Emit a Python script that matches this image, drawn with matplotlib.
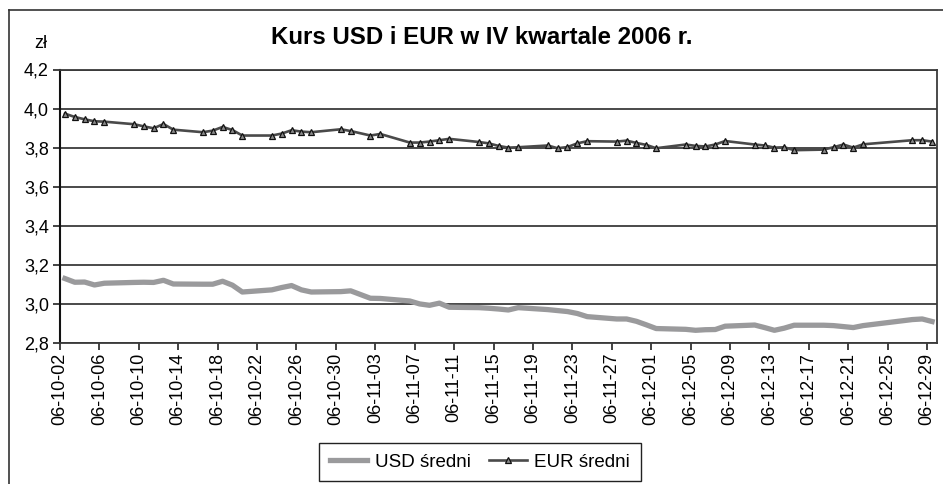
import matplotlib
matplotlib.use("Agg")
import matplotlib.pyplot as plt
import matplotlib.dates as mdates
from matplotlib.lines import Line2D
import pandas as pd

plt.rcParams['font.family'] = ['Liberation Sans', 'DejaVu Sans']

# ---- data ----
start_date = "2006-10-02"
end_date = "2006-12-29"
holidays = ["2006-11-01", "2006-12-25", "2006-12-26"]
dates = [d for d in pd.bdate_range(start_date, end_date) if d.strftime("%Y-%m-%d") not in holidays]

usd = [3.130, 3.111, 3.112, 3.097, 3.106, 3.110, 3.111, 3.110, 3.121, 3.102,
       3.101, 3.101, 3.116, 3.096, 3.061, 3.072, 3.084, 3.094, 3.072, 3.061,
       3.063, 3.067,
       3.029, 3.028, 3.015, 3.000, 2.993, 3.004, 2.983, 2.981, 2.978, 2.974,
       2.969, 2.981, 2.971, 2.966, 2.961, 2.951, 2.935, 2.923, 2.923, 2.911,
       2.893,
       2.874, 2.870, 2.865, 2.868, 2.869, 2.886, 2.892, 2.879, 2.865, 2.876,
       2.891, 2.891, 2.889, 2.884, 2.879, 2.889, 2.920, 2.923, 2.910]

eur = [3.974, 3.957, 3.945, 3.935, 3.933, 3.920, 3.909, 3.899, 3.921, 3.892,
       3.879, 3.887, 3.906, 3.890, 3.862, 3.862, 3.872, 3.889, 3.882, 3.879,
       3.894, 3.885,
       3.862, 3.870, 3.826, 3.826, 3.831, 3.838, 3.845, 3.829, 3.822, 3.809,
       3.800, 3.802, 3.811, 3.797, 3.803, 3.822, 3.833, 3.831, 3.836, 3.824,
       3.814,
       3.797, 3.816, 3.809, 3.806, 3.816, 3.834, 3.816, 3.811, 3.800, 3.802,
       3.787, 3.790, 3.802, 3.816, 3.800, 3.817, 3.838, 3.838, 3.831]

title = "Kurs USD i EUR w IV kwartale 2006 r."
y_unit = "zł"
y_ticks = [2.8, 3.0, 3.2, 3.4, 3.6, 3.8, 4.0, 4.2]
tick_step_days = 4
labels = ["USD średni", "EUR średni"]

# ---- figure ----
fig = plt.figure(figsize=(9.43, 4.84), dpi=100)
ax = fig.add_axes([60/943, 1-343/484, (937-60)/943, (343-69.5)/484])

# points centred in their day (date axis, between tick marks)
x = [mdates.date2num(d) + 0.5 for d in dates]

ax.plot(x, usd, color="#9a9a9c", lw=3.8, solid_joinstyle="round", label=labels[0], zorder=3)
ax.plot(x, eur, color="#4a4a4a", lw=1.9, marker="^", ms=4.5, mfc="#8a8a8a",
        mec="#111111", mew=0.9, label=labels[1], zorder=4)

x0 = mdates.date2num(pd.Timestamp(start_date))
x1 = mdates.date2num(pd.Timestamp(end_date)) + 1
ax.set_xlim(x0, x1)
ax.set_ylim(2.8, 4.2)

xt = list(range(int(x0), int(x1), tick_step_days))
ax.set_xticks(xt)
ax.set_xticklabels([mdates.num2date(v).strftime("%y-%m-%d") for v in xt], rotation=90,
                   fontsize=13)
ax.set_yticks(y_ticks)
ax.set_yticklabels([f"{v:.1f}".replace(".", ",") for v in y_ticks], fontsize=13)

ax.tick_params(axis="x", direction="out", length=5, width=1.2, pad=2, color="#222222")
ax.tick_params(axis="y", direction="out", length=5, width=1.2, pad=3, color="#222222")

ax.grid(axis="y", color="#3a3a3a", lw=1.3)
ax.set_axisbelow(True)
for s in ["top", "right", "bottom"]:
    ax.spines[s].set_color("#3a3a3a")
    ax.spines[s].set_linewidth(1.3)
ax.spines["left"].set_color("#111111")
ax.spines["left"].set_linewidth(1.5)

fig.text(41/943, 1-43/484, y_unit, fontsize=13, ha="center", va="center")
fig.text(482/943, 1-37/484, title, fontsize=17.3, fontweight="bold", ha="center", va="center")

leg = fig.legend(loc="center", bbox_to_anchor=(480/943, 1-462/484), ncol=2, fontsize=13.5,
                 frameon=True, fancybox=False, edgecolor="#222222", framealpha=1,
                 handlelength=2.0, columnspacing=1.0, handletextpad=0.4,
                 borderpad=0.55)
leg.get_frame().set_linewidth(1.0)

# chart frame (left and top edges visible)
fig.add_artist(Line2D([8.5/943, 8.5/943], [0, 1-10/484], transform=fig.transFigure,
                      color="#333333", lw=1.2))
fig.add_artist(Line2D([8.5/943, 1], [1-10/484, 1-10/484], transform=fig.transFigure,
                      color="#333333", lw=1.2))

fig.savefig("out.png", dpi=100)
